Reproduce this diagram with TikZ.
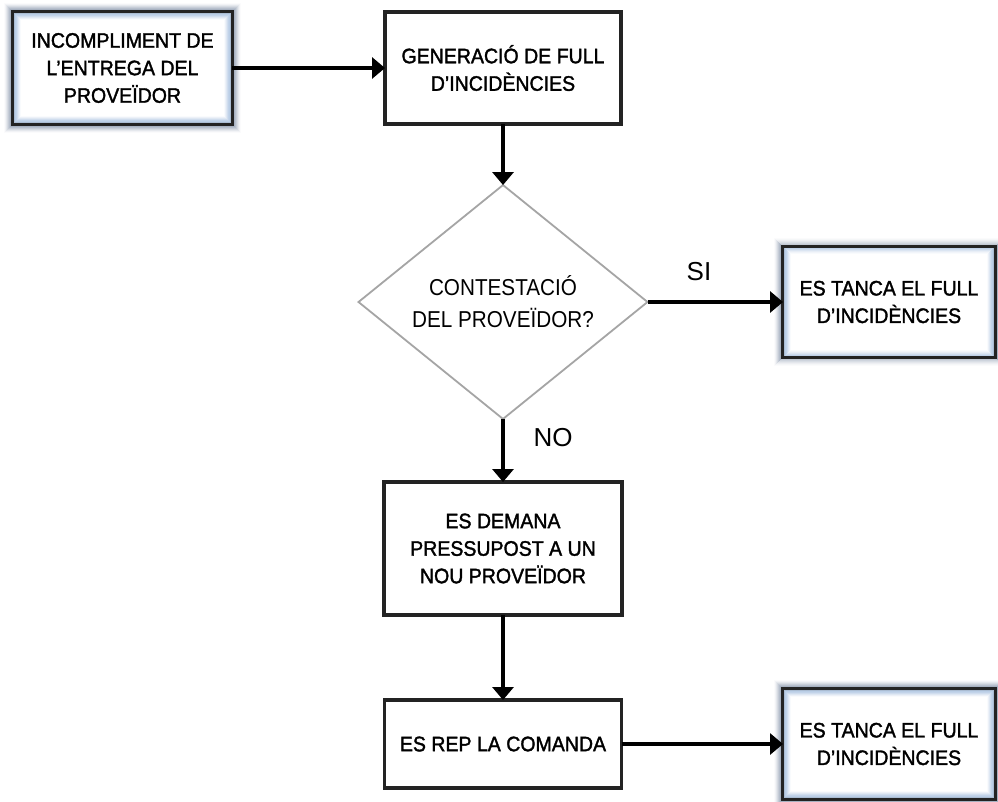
\documentclass[tikz,border=0pt]{standalone}
\usepackage{fontspec}
\setmainfont{Liberation Sans}
\newfontfamily\boxfont[FakeStretch=0.93,FakeBold=1.6]{Liberation Sans}
\newfontfamily\diafont[FakeStretch=0.9]{Liberation Sans}
\usetikzlibrary{arrows.meta,shapes.geometric,backgrounds}
\definecolor{glowc}{RGB}{120,135,160}
\definecolor{innerc}{RGB}{185,205,230}
\definecolor{bordc}{RGB}{35,35,35}
\definecolor{diac}{RGB}{165,165,165}
\tikzset{
  procbox/.style={draw=bordc, line width=3.4pt, fill=white, outer sep=0pt, inner sep=0pt,
    align=center, font=\boxfont\fontsize{21}{27.5}\selectfont},
  decbox/.style={diamond, draw=diac, line width=1.8pt, fill=white, outer sep=0pt, inner sep=0pt,
    align=center, font=\diafont\fontsize{23}{32}\selectfont},
  flow/.style={line width=3.2pt, -{Triangle[length=13pt,width=21pt]}},
  lbl/.style={font=\fontsize{26}{30}\selectfont, inner sep=0pt}
}
\begin{document}
\begin{tikzpicture}[x=1pt,y=-1pt]
\useasboundingbox (0,0) rectangle (998,801);

\node[procbox, minimum width=219pt, minimum height=112pt] (n1) at (122.5,68) {INCOMPLIMENT DE\\L’ENTREGA DEL\\PROVEÏDOR};
\node[procbox, minimum width=236pt, minimum height=112pt] (n2) at (503,68) {GENERACIÓ DE FULL\\D’INCIDÈNCIES};
\node[decbox, minimum width=289pt, minimum height=217pt] (d) at (503,302) {CONTESTACIÓ\\DEL PROVEÏDOR?};
\node[procbox, minimum width=212pt, minimum height=111pt] (n3) at (889,302) {ES TANCA EL FULL\\D’INCIDÈNCIES};
\node[procbox, minimum width=238pt, minimum height=133pt] (n4) at (503,548.5) {ES DEMANA\\PRESSUPOST A UN\\NOU PROVEÏDOR};
\node[procbox, minimum width=237pt, minimum height=88pt] (n5) at (503,744) {ES REP LA COMANDA};
\node[procbox, minimum width=212pt, minimum height=110pt] (n6) at (889,744) {ES TANCA EL FULL\\D’INCIDÈNCIES};

% outer glow
\begin{scope}[on background layer]
\foreach \n in {n1,n3,n6}{
  \foreach \i/\o in {1/0.55,2/0.45,3/0.36,4/0.28,5/0.2,6/0.13,7/0.07,8/0.03}{
    \draw[glowc, line width=1.1pt, opacity=\o]
      ([shift={(-\i pt,-\i pt)}]\n.south west) rectangle ([shift={(\i pt,\i pt)}]\n.north east);
  }
}
\end{scope}
% inner glow
\foreach \n in {n1,n3,n6}{
  \foreach \i/\o in {2/0.9,3/0.7,4/0.5,5/0.32,6/0.18,7/0.08}{
    \draw[innerc, line width=1.1pt, opacity=\o]
      ([shift={(\i pt,\i pt)}]\n.south west) rectangle ([shift={(-\i pt,-\i pt)}]\n.north east);
  }
}

\draw[flow] (n1.east) -- (n2.west);
\draw[flow] (n2.south) -- (d.north);
\draw[flow] (d.east) -- (n3.west);
\draw[flow] (d.south) -- (n4.north);
\draw[flow] (n4.south) -- (n5.north);
\draw[flow] (n5.east) -- (n6.west);

\node[lbl] (si) at (699,272) {SI};
\node[lbl] (no) at (553,438) {NO};
\end{tikzpicture}
\end{document}
